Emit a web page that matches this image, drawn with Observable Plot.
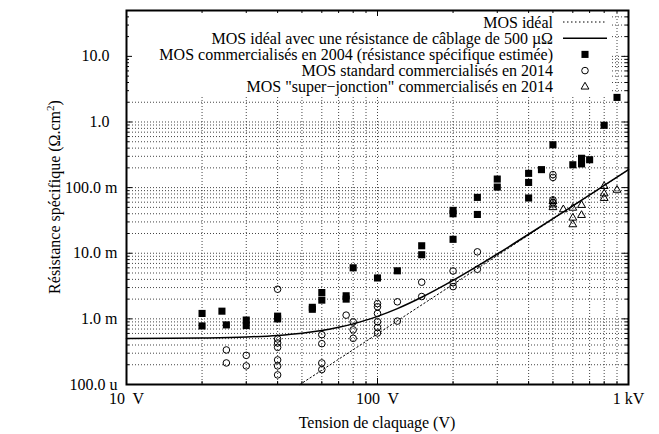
<!DOCTYPE html>
<html><head><meta charset="utf-8">
<script src="https://cdn.jsdelivr.net/npm/d3@7"></script>
<script src="https://cdn.jsdelivr.net/npm/@observablehq/plot@0.6"></script>
<style>
body{margin:0;background:#fff;}
#chart{width:659px;height:434px;}
svg text{white-space:pre;}
</style>
</head><body><div id="chart"></div>
<script>
// ---- data ----
const xDomain = [10, 1000];
const yDomain = [1e-4, 50];
const xMajor = [10, 100, 1000];
const xLabels = ["10  V", "100  V", "1 kV"];
const yMajor = [1e-4, 1e-3, 1e-2, 1e-1, 1, 10];
const yLabels = ["100.0 u", "1.0 m", "10.0 m", "100.0 m", "1.0  ", "10.0  "];

// MOS commercialisés en 2004 (filled squares)
const sqV = [20, 20, 24, 25, 30, 30, 40, 40, 55, 55, 60, 60, 75, 75, 80, 100, 120, 150, 150, 200, 200, 200, 250, 250, 300, 300, 400, 400, 400, 450, 500, 600, 650, 650, 700, 800, 900];
const sqR = [1.21e-3, 7.8e-4, 1.31e-3, 8.1e-4, 9.6e-4, 7.9e-4, 1.1e-3, 1.0e-3, 1.5e-3, 1.4e-3, 2.52e-3, 1.93e-3, 2.25e-3, 2.0e-3, 6.0e-3, 4.2e-3, 5.4e-3, 0.013, 9.5e-3, 0.045, 0.040, 0.0163, 0.071, 0.039, 0.135, 0.102, 0.165, 0.12, 0.0695, 0.188, 0.45, 0.223, 0.28, 0.23, 0.266, 0.89, 2.37];

// MOS standard commercialisés en 2014 (open circles)
const ciV = [25, 25, 30, 30, 40, 40, 40, 40, 40, 40, 40, 60, 60, 60, 60, 75, 80, 80, 80, 100, 100, 100, 100, 100, 100, 120, 120, 150, 150, 200, 200, 200, 250, 250, 500, 500, 500, 500];
const ciR = [3.36e-4, 2.13e-4, 2.78e-4, 1.92e-4, 2.83e-3, 4.94e-4, 4.3e-4, 3.68e-4, 2.37e-4, 1.92e-4, 1.40e-4, 5.74e-4, 4.19e-4, 2.13e-4, 1.69e-4, 1.14e-3, 9.0e-4, 6.8e-4, 5.05e-4, 1.71e-3, 1.53e-3, 1.21e-3, 9.04e-4, 7.4e-4, 6.09e-4, 1.82e-3, 9.25e-4, 3.62e-3, 2.19e-3, 5.37e-3, 3.57e-3, 3.1e-3, 0.0105, 5.7e-3, 0.158, 0.143, 0.065, 0.059];

// MOS "super-jonction" commercialisés en 2014 (open triangles)
const trV = [500, 500, 500, 550, 600, 600, 600, 650, 650, 800, 800, 800, 900];
const trR = [0.062, 0.055, 0.050, 0.0464, 0.049, 0.0346, 0.0274, 0.054, 0.038, 0.105, 0.081, 0.069, 0.092];

// MOS idéal (dotted line)
const idealV = [49.1, 1000];
const idealR = [1e-4, 0.1875];

// MOS idéal + 500 µΩ de câblage (solid line)
const wireV = [10, 15, 20, 30, 40, 50, 60, 70, 80, 90, 100, 120, 150, 200, 250, 300, 400, 500, 600, 700, 800, 900, 1000];
const wireR = [5.02e-4, 5.05e-4, 5.11e-4, 5.29e-4, 5.60e-4, 6.05e-4, 6.65e-4, 7.43e-4, 8.39e-4, 9.56e-4, 1.093e-3, 1.435e-3, 2.134e-3, 3.855e-3, 6.36e-3, 9.74e-3, 0.01948, 0.03365, 0.0528, 0.0774, 0.1078, 0.1446, 0.188];

const legendLabels = [
  "MOS idéal",
  "MOS idéal avec une résistance de câblage de 500 µΩ",
  "MOS commercialisés en 2004 (résistance spécifique estimée)",
  "MOS standard commercialisés en 2014",
  "MOS \"super\u2212jonction\" commercialisés en 2014"
];

// ---- layout ----
const W = 659, H = 434, mL = 126, mR = 31, mT = 10, mB = 50;
const fw = W - mL - mR, fh = H - mT - mB;
const font = "'Liberation Serif','Times New Roman',serif";

const zip = (xs, ys) => xs.map((x, i) => ({x, y: ys[i]}));
const squares = zip(sqV, sqR), circles = zip(ciV, ciR), triangles = zip(trV, trR);
const ideal = zip(idealV, idealR), wire = zip(wireV, wireR);

const xAll = d3.scaleLog().domain(xDomain).ticks();
const yAll = d3.scaleLog().domain(yDomain).ticks();
const xMinor = xAll.filter(v => !xMajor.some(m => Math.abs(m - v) / m < 1e-9));
const yMinor = yAll.filter(v => !yMajor.some(m => Math.abs(m - v) / m < 1e-9));
const xGrid = xAll.filter(v => v > xDomain[0] && v < xDomain[1]);
const yGrid = yAll.filter(v => v > yDomain[0] * 1.0001 && v < yDomain[1] * 0.9999);

const xTicks = xMajor.map((v, i) => ({v, label: xLabels[i]}));
const yTicks = yMajor.map((v, i) => ({v, label: yLabels[i]}));

const gridStyle = {stroke: "#444", strokeDasharray: "1,2", strokeWidth: 1};
const rSq = 4, rCi = 3.3, rTr = 2.9;

const plot = Plot.plot({
  width: W, height: H,
  marginLeft: mL, marginRight: mR, marginTop: mT, marginBottom: mB,
  style: {fontFamily: font, fontSize: "16px", background: "white", color: "black", overflow: "visible"},
  x: {type: "log", domain: xDomain, axis: null},
  y: {type: "log", domain: yDomain, axis: null},
  marks: [
    Plot.ruleX(xGrid, gridStyle),
    Plot.ruleY(yGrid, gridStyle),
    // opaque key box
    Plot.frame({fill: "white", stroke: null, insetTop: 1, insetLeft: 1, insetRight: 17, insetBottom: fh - 85}),
    Plot.line(ideal, {x: "x", y: "y", stroke: "black", strokeWidth: 1, strokeDasharray: "1.5,2.5"}),
    Plot.line(wire, {x: "x", y: "y", stroke: "black", strokeWidth: 1.5, curve: "monotone-x"}),
    Plot.dot(squares, {x: "x", y: "y", symbol: "square", r: rSq, fill: "black", stroke: null}),
    Plot.dot(circles, {x: "x", y: "y", symbol: "circle", r: rCi, fill: "none", stroke: "black", strokeWidth: 1}),
    Plot.dot(triangles, {x: "x", y: "y", symbol: "triangle", r: rTr, fill: "none", stroke: "black", strokeWidth: 1}),
    // ticks (inward, mirrored)
    Plot.ruleX(xMajor, {insetTop: fh - 6, stroke: "black"}),
    Plot.ruleX(xMajor, {insetBottom: fh - 6, stroke: "black"}),
    Plot.ruleX(xMinor, {insetTop: fh - 3, stroke: "black"}),
    Plot.ruleX(xMinor, {insetBottom: fh - 3, stroke: "black"}),
    Plot.ruleY(yMajor, {insetRight: fw - 6, stroke: "black"}),
    Plot.ruleY(yMajor, {insetLeft: fw - 6, stroke: "black"}),
    Plot.ruleY(yMinor, {insetRight: fw - 3, stroke: "black"}),
    Plot.ruleY(yMinor, {insetLeft: fw - 3, stroke: "black"}),
    Plot.frame({stroke: "black", strokeWidth: 2}),
    // tick labels
    Plot.text(yTicks, {y: "v", text: "label", frameAnchor: "left", dx: -9, textAnchor: "end", fill: "black"}),
    Plot.text(xTicks, {x: "v", text: "label", frameAnchor: "bottom", dy: 19, fill: "black"})
  ]
});
document.getElementById("chart").appendChild(plot);

// ---- titles and key ----
const svg = d3.select(plot);
svg.append("text")
  .attr("x", mL + fw / 2).attr("y", H - 6)
  .attr("text-anchor", "middle").attr("fill", "black")
  .text("Tension de claquage (V)");
const yl = svg.append("text")
  .attr("transform", `translate(60,${mT + fh / 2}) rotate(-90)`)
  .attr("text-anchor", "middle").attr("fill", "black");
yl.append("tspan").text("Résistance spécifique (Ω.cm");
yl.append("tspan").attr("dy", -6).attr("font-size", "11px").text("2");
yl.append("tspan").attr("dy", 6).text(")");

const key = svg.append("g");
const rowY = i => 22 + 16.2 * i;
const textX = 553, sx1 = 563, sx2 = 607, sxm = 585;
legendLabels.forEach((lab, i) => {
  key.append("text").attr("x", textX).attr("y", rowY(i)).attr("dy", "0.35em")
    .attr("text-anchor", "end").attr("fill", "black").text(lab);
});
key.append("line").attr("x1", sx1).attr("x2", sx2).attr("y1", rowY(0)).attr("y2", rowY(0))
  .attr("stroke", "black").attr("stroke-dasharray", "1.5,2.5");
key.append("line").attr("x1", sx1).attr("x2", sx2).attr("y1", rowY(1)).attr("y2", rowY(1))
  .attr("stroke", "black").attr("stroke-width", 1.5);
key.append("path").attr("transform", `translate(${sxm},${rowY(2)})`)
  .attr("d", d3.symbol(d3.symbolSquare, Math.PI * rSq * rSq)()).attr("fill", "black");
key.append("path").attr("transform", `translate(${sxm},${rowY(3)})`)
  .attr("d", d3.symbol(d3.symbolCircle, Math.PI * rCi * rCi)()).attr("fill", "none").attr("stroke", "black");
key.append("path").attr("transform", `translate(${sxm},${rowY(4)})`)
  .attr("d", d3.symbol(d3.symbolTriangle, Math.PI * rTr * rTr)()).attr("fill", "none").attr("stroke", "black");
</script>
</body></html>
